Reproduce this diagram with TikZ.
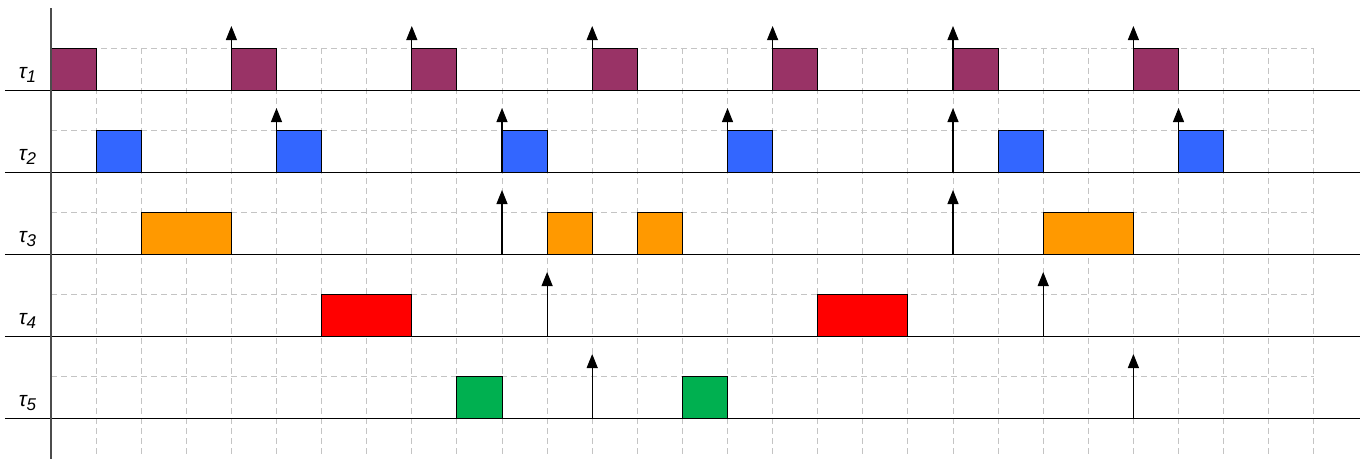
\documentclass[tikz,border=0pt]{standalone}
\usepackage{fontspec}
\setmainfont{Liberation Sans}
\usetikzlibrary{arrows.meta}
\definecolor{cpurple}{HTML}{993366}
\definecolor{cblue}{HTML}{3366FF}
\definecolor{corange}{HTML}{FF9900}
\definecolor{cred}{HTML}{FF0000}
\definecolor{cgreen}{HTML}{00B050}
\definecolor{gridgray}{HTML}{C4C4C4}
\tikzset{
  gridline/.style={gridgray, line width=0.9pt, dash pattern=on 6pt off 4pt},
  baseline/.style={black, line width=1pt},
  axisline/.style={black!70, line width=1.2pt},
  job/.style={draw=black, line width=0.9pt},
  release/.style={black, line width=1.1pt, -{Triangle[length=14pt,width=11pt]}},
  tasklabel/.style={font=\fontsize{21}{21}\selectfont\itshape, inner sep=0pt}
}
\begin{document}
\begin{tikzpicture}[x=45.1pt, y=-1pt, xshift=51pt]
\useasboundingbox (-1.13082,0) rectangle (29.24612,459);
% grid
\foreach \i in {1,...,28} \draw[gridline] (\i,48) -- (\i,455);
\foreach \k in {0,...,4} \draw[gridline] (0,48+82*\k) -- (28,48+82*\k);
% releases
\foreach \a in {4,8,12,16,20,24} \draw[release] (\a,90) -- (\a,26);
\foreach \a in {5,10,15,20,25} \draw[release] (\a,172) -- (\a,108);
\foreach \a in {10,20} \draw[release] (\a,254) -- (\a,190);
\foreach \a in {11,22} \draw[release] (\a,336) -- (\a,272);
\foreach \a in {12,24} \draw[release] (\a,418) -- (\a,354);
% jobs
\foreach \a in {0,4,8,12,16,20,24} \draw[job, fill=cpurple] (\a,48) rectangle (\a+1,90);
\foreach \a in {1,5,10,15,21,25} \draw[job, fill=cblue] (\a,130) rectangle (\a+1,172);
\foreach \a/\b in {2/4,11/12,13/14,22/24} \draw[job, fill=corange] (\a,212) rectangle (\b,254);
\foreach \a/\b in {6/8,17/19} \draw[job, fill=cred] (\a,294) rectangle (\b,336);
\foreach \a in {9,14} \draw[job, fill=cgreen] (\a,376) rectangle (\a+1,418);
% baselines and axis
\foreach \k in {0,...,4} \draw[baseline] (-1.02,90+82*\k) -- (29.02,90+82*\k);
\draw[axisline] (0,8) -- (0,459);
% labels
\foreach \k in {1,...,5}
  \node[tasklabel] (t\k) at (-0.52,75+82*\k-82) {τ\raisebox{-4pt}{\fontsize{17}{17}\selectfont\k}};
\end{tikzpicture}
\end{document}
